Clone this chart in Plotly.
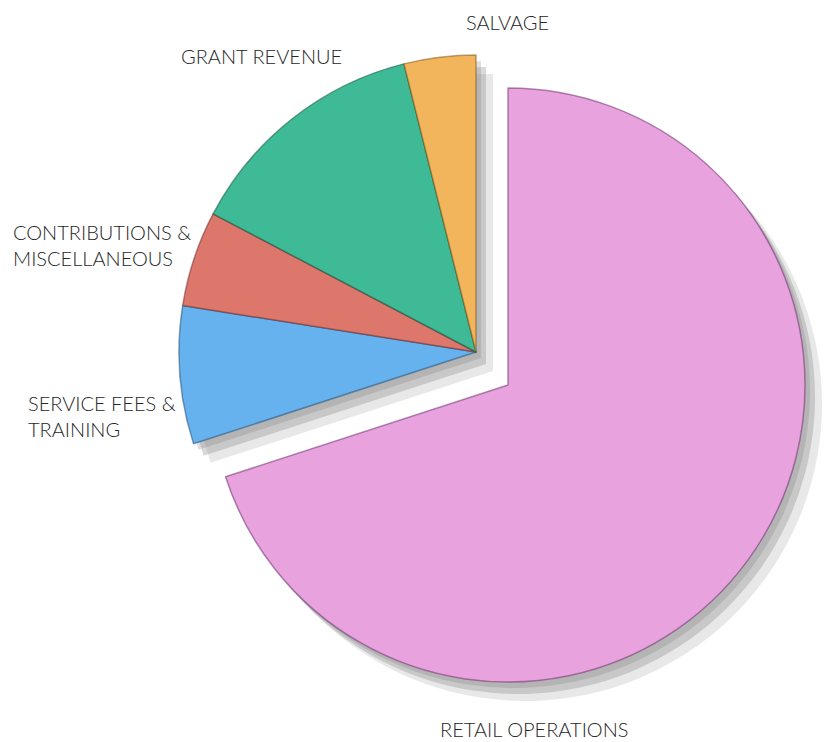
import plotly.graph_objects as go

# ---- data ----
labels = ["RETAIL OPERATIONS", "SERVICE FEES & TRAINING", "CONTRIBUTIONS & MISCELLANEOUS",
          "GRANT REVENUE", "SALVAGE"]
values = [70.0, 7.5, 5.2, 13.4, 3.9]
colors = ["#E8A3DF", "#66B2EE", "#DD776C", "#3EBB96", "#F2B55C"]
edge_colors = ["rgba(110,50,110,0.55)", "rgba(30,70,110,0.5)", "rgba(110,40,40,0.5)",
               "rgba(20,80,60,0.5)", "rgba(120,80,20,0.5)"]

# page body has an 8px default margin -> figure drawn offset by 8px
OFF = 8
W, H = 835, 742
FW, FH = W - OFF, H - OFF

def px(x):
    return (x - OFF) / FW

def py(y):
    return 1 - (y - OFF) / FH

R = 297
small_center = (476, 352)   # reference-pixel centre of the un-pulled slices
pulled_center = (508, 385)  # reference-pixel centre of the exploded slice

def domain(cx, cy, r):
    return dict(x=[px(cx - r), px(cx + r)], y=[py(cy + r), py(cy - r)])

CLEAR = "rgba(0,0,0,0)"
pulled = [True, False, False, False, False]

def pie(center, show, fill, line, lw, name):
    n = len(labels)
    return go.Pie(
        labels=labels, values=values, sort=False, direction="clockwise", rotation=0,
        textinfo="none", hoverinfo="label+percent", showlegend=False,
        marker=dict(colors=[fill[i] if show(i) else CLEAR for i in range(n)],
                    line=dict(width=lw, color=[line[i] if show(i) else CLEAR for i in range(n)])),
        domain=domain(*center, R), name=name,
    )

is_pulled = lambda i: pulled[i]
not_pulled = lambda i: not pulled[i]

fig = go.Figure()
for (dx, dy, a) in [(17, 19, 0.16), (10, 12, 0.26), (5, 6, 0.22)]:
    sh = ["rgba(110,110,110,%.2f)" % a] * len(labels)
    fig.add_trace(pie((small_center[0] + dx, small_center[1] + dy), not_pulled, sh,
                      [CLEAR] * len(labels), 0, "shadow"))
    fig.add_trace(pie((pulled_center[0] + dx, pulled_center[1] + dy), is_pulled, sh,
                      [CLEAR] * len(labels), 0, "shadow"))
fig.add_trace(pie(small_center, not_pulled, colors, edge_colors, 1.5, "rest"))
fig.add_trace(pie(pulled_center, is_pulled, colors, edge_colors, 1.5, "retail"))

# ---- labels ----
label_pos = [  # (x px, y px, xanchor) in reference pixels
    (534, 729, "center"),
    (26, 416, "left"),
    (11, 245, "left"),
    (262, 56, "center"),
    (507, 22, "center"),
]
for lab, (lx, ly, xa) in zip(labels, label_pos):
    txt = lab.replace(" & ", " &amp;<br>")
    fig.add_annotation(x=px(lx), y=py(ly), xref="paper", yref="paper", text=txt,
                       showarrow=False, xanchor=xa, yanchor="middle", align="left",
                       font=dict(family="Lato", size=20, color="#262626", weight=300))

fig.update_layout(width=FW, height=FH, margin=dict(l=0, r=0, t=0, b=0),
                  paper_bgcolor="white", plot_bgcolor="white")
fig.write_html("out.html")
